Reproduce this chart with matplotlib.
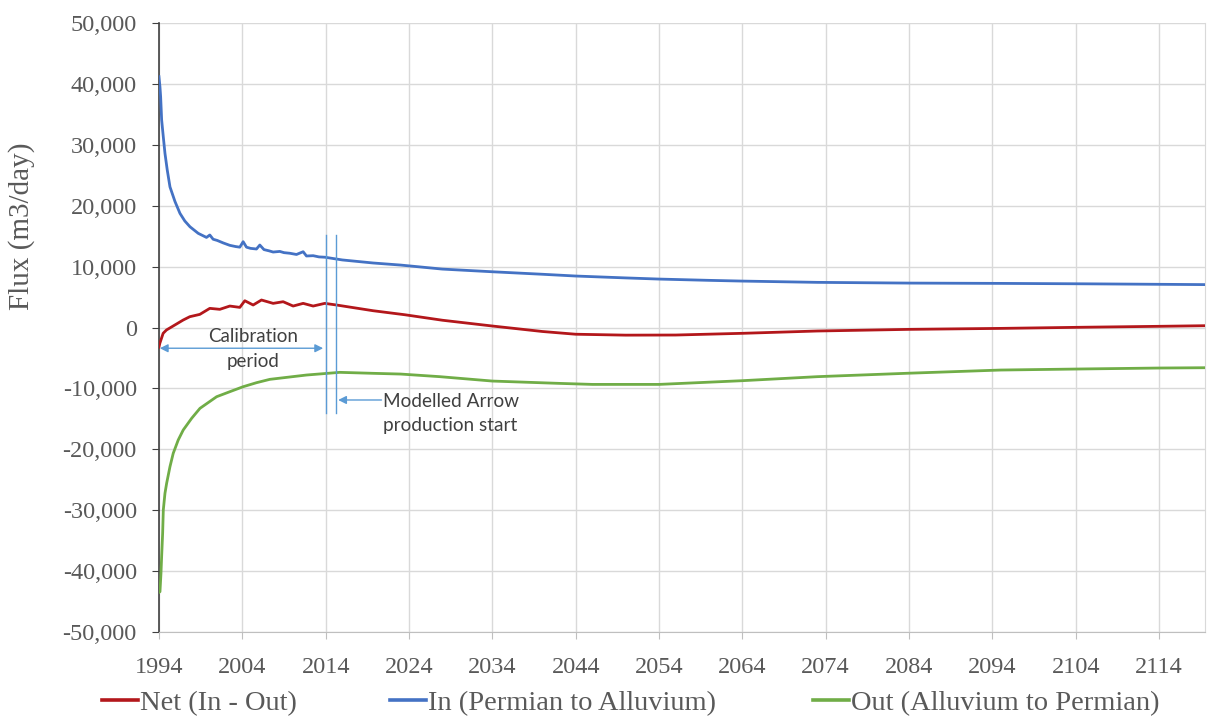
import matplotlib
matplotlib.use("Agg")
import matplotlib.pyplot as plt
from matplotlib.ticker import FuncFormatter

# ---------------- data ----------------
in_years = [1994.0, 1994.12, 1994.2, 1994.32, 1994.52, 1994.72, 1994.99, 1995.32, 1995.92, 1996.52,
            1997.1, 1997.72, 1998.71, 1999.7, 2000.1, 2000.5, 2001.0, 2001.7, 2002.5,
            2003.2, 2003.7, 2004.1, 2004.5, 2005.0, 2005.7, 2006.1, 2006.6, 2007.2, 2007.7,
            2008.5, 2009.0, 2009.7, 2010.5, 2011.3, 2011.7, 2012.5, 2013.2, 2013.9, 2016.0,
            2019.7, 2023.0, 2028.0, 2034.0, 2040.0, 2044.0, 2050.0, 2054.0, 2060.0, 2064.0,
            2073.0, 2084.0, 2095.0, 2105.0, 2114.0, 2119.5]
in_flux = [41200, 39500, 37900, 34100, 31300, 28600, 25900, 23100, 20700, 18750,
           17500, 16550, 15470, 14800, 15200, 14500, 14300, 13900, 13500,
           13300, 13200, 14100, 13200, 13000, 12900, 13550, 12800, 12600, 12400,
           12500, 12300, 12200, 12000, 12450, 11750, 11800, 11600, 11550, 11100,
           10600, 10260, 9600, 9160, 8750, 8460, 8150, 7960, 7750, 7630,
           7420, 7300, 7250, 7180, 7100, 7050]

net_years = [1994.0, 1994.1, 1994.5, 1994.9, 1995.7, 1996.9, 1997.7, 1998.9, 2000.1, 2001.3,
             2002.5, 2003.7, 2004.3, 2005.3, 2006.3, 2007.7, 2008.9, 2010.1, 2011.3, 2012.5,
             2013.9, 2015.3, 2019.7, 2023.5, 2028.0, 2034.0, 2040.0, 2044.0, 2050.0, 2056.0,
             2064.0, 2073.0, 2084.0, 2095.0, 2105.0, 2114.0, 2119.5]
net_flux = [-3200, -2600, -950, -400, 250, 1230, 1780, 2160, 3150, 2990,
            3530, 3310, 4400, 3700, 4520, 3970, 4240, 3530, 3970, 3530,
            3970, 3700, 2760, 2100, 1200, 250, -650, -1100, -1250, -1230,
            -950, -570, -300, -140, 50, 200, 300]

out_years = [1994.0, 1994.12, 1994.24, 1994.32, 1994.44, 1994.52, 1994.72, 1994.92, 1995.32, 1995.71,
             1996.31, 1996.91, 1997.92, 1998.92, 2000.92, 2002.5, 2004.1, 2005.7, 2007.3, 2011.7,
             2015.7, 2019.7, 2023.0, 2027.7, 2034.0, 2042.0, 2046.0, 2054.0,
             2064.0, 2073.0, 2084.0, 2095.0, 2105.0, 2114.0, 2119.5]
out_flux = [-43500, -43380, -40360, -37630, -33790, -29970, -27220, -25580, -22850, -20660,
            -18470, -16830, -14910, -13270, -11360, -10540, -9720, -9060, -8510, -7800,
            -7360, -7520, -7640, -8070, -8790, -9170, -9340, -9340,
            -8730, -8070, -7500, -6980, -6800, -6650, -6600]

series_labels = ["Net (In - Out)", "In (Permian to Alluvium)", "Out (Alluvium to Permian)"]
x_ticks = [1994, 2004, 2014, 2024, 2034, 2044, 2054, 2064, 2074, 2084, 2094, 2104, 2114]
y_ticks = [-50000, -40000, -30000, -20000, -10000, 0, 10000, 20000, 30000, 40000, 50000]

calib_end = 2014.0
production_start = 2015.2

# ---------------- figure ----------------
fig = plt.figure(figsize=(12.08, 7.22), dpi=100)
ax = fig.add_axes([0.1316, 0.1247, 0.8658, 0.8433])

c_net = "#b3171b"
c_in = "#4472c4"
c_out = "#70ad47"
c_ann = "#5b9bd5"
c_txt = "#595959"

l_net, = ax.plot(net_years, net_flux, color=c_net, lw=2.0, zorder=3)
l_in, = ax.plot(in_years, in_flux, color=c_in, lw=2.0, zorder=3)
l_out, = ax.plot(out_years, out_flux, color=c_out, lw=2.0, zorder=3)

ax.set_xlim(1994, 2119.5)
ax.set_ylim(-50000, 50000)
ax.set_xticks(x_ticks)
ax.set_yticks(y_ticks)
ax.yaxis.set_major_formatter(FuncFormatter(lambda v, p: f"{int(v):,}"))

ax.grid(True, color="#d9d9d9", lw=1.0, zorder=0)
ax.spines["top"].set_visible(False)
ax.spines["right"].set_color("#d9d9d9")
ax.spines["left"].set_color("#404040")
ax.spines["left"].set_linewidth(1.2)
ax.spines["bottom"].set_color("#bfbfbf")

serif = ["Liberation Serif", "DejaVu Serif"]
ax.tick_params(axis="y", length=5, color="#404040", labelcolor=c_txt, labelsize=17.5, pad=11)
ax.tick_params(axis="x", length=5, color="#bfbfbf", labelcolor=c_txt, labelsize=17.5, pad=13)
for lab in ax.get_xticklabels() + ax.get_yticklabels():
    lab.set_fontfamily(serif)

fig.text(0.018, 0.686, "Flux (m3/day)", rotation=90, ha="center", va="center",
         fontsize=21, color=c_txt, family=serif)

# ---------------- annotations ----------------
ax.plot([calib_end, calib_end], [15200, -14000], color=c_ann, lw=1.0, zorder=4)
ax.plot([production_start, production_start], [15200, -14000], color=c_ann, lw=1.0, zorder=4)

ax.annotate("", xy=(1994.1, -3400), xytext=(2013.7, -3400),
            arrowprops=dict(arrowstyle="<|-|>", color=c_ann, lw=1.0,
                            mutation_scale=12, shrinkA=0, shrinkB=0), zorder=5)
ax.text(2005.3, -3550, "Calibration\nperiod", ha="center", va="center", fontsize=13.5,
        color="#404040", family=["Lato", "DejaVu Sans"], linespacing=1.6, zorder=5)

ax.annotate("", xy=(2015.5, -11900), xytext=(2020.7, -11900),
            arrowprops=dict(arrowstyle="-|>", color=c_ann, lw=1.0,
                            mutation_scale=12, shrinkA=0, shrinkB=0), zorder=5)
ax.text(2020.9, -14100, "Modelled Arrow\nproduction start", ha="left", va="center",
        fontsize=13.7, color="#404040", family=["Lato", "DejaVu Sans"], linespacing=1.45, zorder=5)

# ---------------- legend (one entry per box, placed where the reference puts them) ----------------
starts = [102 / 1208, 390 / 1208, 813 / 1208]
for line, label, x0 in zip([l_net, l_in, l_out], series_labels, starts):
    lg = fig.legend([line], [label], loc="center left", bbox_to_anchor=(x0, 0.026),
                    frameon=False, handlelength=1.26, handletextpad=0.07,
                    borderpad=0, borderaxespad=0, prop={"family": serif, "size": 20.5})
    for t in lg.get_texts():
        t.set_color(c_txt)
    for h in lg.legend_handles:
        h.set_linewidth(2.6)

fig.savefig("out.png", dpi=100)
